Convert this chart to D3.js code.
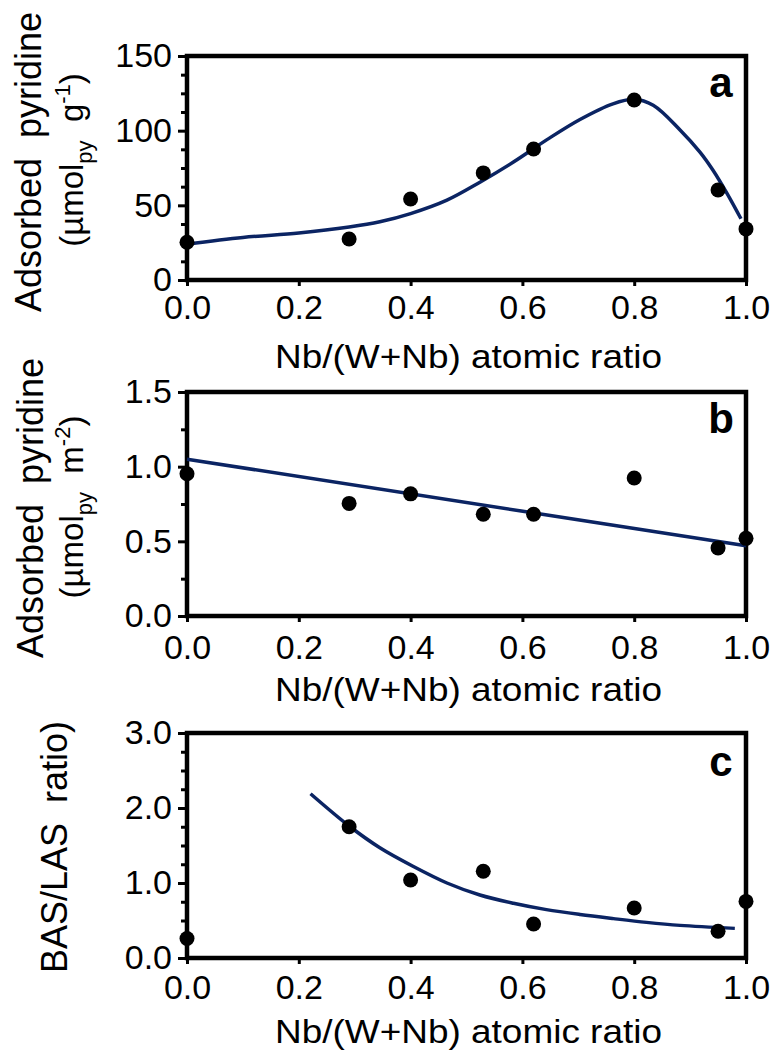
<!DOCTYPE html>
<html>
<head>
<meta charset="utf-8">
<script src="https://cdn.jsdelivr.net/npm/d3@7"></script>
<style>
  body { margin: 0; background: #fff; }
  text { font-family: "Liberation Sans", Arial, sans-serif; fill: #000; }
</style>
</head>
<body>
<div id="chart"></div>
<script>
// data
var xFrac = [0, 0.29, 0.40, 0.53, 0.62, 0.80, 0.95, 1.0];
var pyGram = [25.3, 27.5, 54.2, 71.7, 87.7, 120.5, 60.3, 34.2];
var pyArea = [0.953, 0.754, 0.818, 0.681, 0.681, 0.924, 0.456, 0.52];
var basLas = [0.26, 1.75, 1.04, 1.156, 0.453, 0.667, 0.356, 0.755];

// fitted lines
var fitAx = [0, 0.1, 0.2, 0.29, 0.345, 0.4, 0.465, 0.524, 0.584, 0.644, 0.703, 0.762, 0.8, 0.834, 0.882, 0.918, 0.941, 0.966, 0.991];
var fitAy = [24, 28.5, 31.5, 35.5, 39, 44.5, 53.5, 65.5, 79, 94, 107.5, 118, 121, 117, 100.5, 85.5, 73.5, 58, 41];
var fitBx = [0, 1];
var fitBy = [1.05, 0.47];
var fitCx = [0.221, 0.29, 0.345, 0.405, 0.465, 0.524, 0.584, 0.643, 0.703, 0.763, 0.822, 0.882, 0.98];
var fitCy = [2.19, 1.76, 1.47, 1.22, 1.0, 0.84, 0.73, 0.645, 0.58, 0.525, 0.475, 0.435, 0.395];

var xTicks = [0, 0.2, 0.4, 0.6, 0.8, 1.0];
var yTicksA = [0, 50, 100, 150];
var yMinorA = [12.5, 25, 37.5, 62.5, 75, 87.5, 112.5, 125, 137.5];
var yTicksB = [0, 0.5, 1.0, 1.5];
var yMinorB = [0.25, 0.75, 1.25];
var yTicksC = [0, 1, 2, 3];
var yMinorC = [0.25, 0.5, 0.75, 1.25, 1.5, 1.75, 2.25, 2.5, 2.75];

var xTitle = "Nb/(W+Nb) atomic ratio";
var lineColor = "#0b2463";

var W = 782, H = 1050;
var left = 187, right = 746;

var svg = d3.select("#chart").append("svg")
    .attr("width", W)
    .attr("height", H);

var x = d3.scaleLinear().domain([0, 1]).range([left, right]);

var panels = [
  { top: 56, bottom: 280, ymax: 150, vals: pyGram, ticks: yTicksA, minor: yMinorA, fmt: d3.format("d"),
    fx: fitAx, fy: fitAy, smooth: true, letter: "a", letterY: 97, tickPad: 9, titleY: 368,
    l1: "Adsorbed  pyridine", l1x: 41, l1c: 162, unit: "g", exp: "-1", l2x: 83, l2c: 160 },
  { top: 392, bottom: 616, ymax: 1.5, vals: pyArea, ticks: yTicksB, minor: yMinorB, fmt: d3.format(".1f"),
    fx: fitBx, fy: fitBy, smooth: false, letter: "b", letterY: 433, tickPad: 13, titleY: 701,
    l1: "Adsorbed  pyridine", l1x: 43, l1c: 508, unit: "m", exp: "-2", l2x: 83, l2c: 507 },
  { top: 733, bottom: 958, ymax: 3, vals: basLas, ticks: yTicksC, minor: yMinorC, fmt: d3.format(".1f"),
    fx: fitCx, fy: fitCy, smooth: true, letter: "c", letterY: 776, tickPad: 11, titleY: 1043,
    l1: "BAS/LAS  ratio)", l1x: 67, l1c: 847 }
];

panels.forEach(function(p) {
  var y = d3.scaleLinear().domain([0, p.ymax]).range([p.bottom, p.top]);
  var g = svg.append("g");

  // minor y ticks
  g.append("g")
    .attr("transform", "translate(" + left + ",0)")
    .call(d3.axisLeft(y).tickValues(p.minor).tickSize(6).tickFormat(""))
    .call(function(a) { a.select(".domain").remove(); a.selectAll("line").attr("stroke-width", 3); });

  // major y ticks
  g.append("g")
    .attr("transform", "translate(" + left + ",0)")
    .call(d3.axisLeft(y).tickValues(p.ticks).tickSize(9).tickPadding(6).tickFormat(p.fmt))
    .call(function(a) {
      a.select(".domain").remove();
      a.selectAll("line").attr("stroke-width", 3);
      a.selectAll("text").style("font-size", "34px").attr("fill", "#000");
    });

  // x axis
  g.append("g")
    .attr("transform", "translate(0," + p.bottom + ")")
    .call(d3.axisBottom(x).tickValues(xTicks).tickSize(6).tickPadding(p.tickPad).tickFormat(d3.format(".1f")))
    .call(function(a) {
      a.select(".domain").remove();
      a.selectAll("line").attr("stroke-width", 3);
      a.selectAll("text").style("font-size", "34px").attr("fill", "#000");
    });

  // frame
  g.append("rect")
    .attr("x", left).attr("y", p.top)
    .attr("width", right - left).attr("height", p.bottom - p.top)
    .attr("fill", "none").attr("stroke", "#000").attr("stroke-width", 4.5);

  // fitted curve
  var fit = p.fx.map(function(v, i) { return [v, p.fy[i]]; });
  var line = d3.line()
    .x(function(d) { return x(d[0]); })
    .y(function(d) { return y(d[1]); })
    .curve(p.smooth ? d3.curveCatmullRom.alpha(0.5) : d3.curveLinear);
  g.append("path")
    .datum(fit)
    .attr("d", line)
    .attr("fill", "none")
    .attr("stroke", lineColor)
    .attr("stroke-width", 3.5);

  // points
  g.selectAll("circle")
    .data(p.vals)
    .enter()
    .append("circle")
      .attr("cx", function(d, i) { return x(xFrac[i]); })
      .attr("cy", function(d) { return y(d); })
      .attr("r", 7.5)
      .attr("fill", "#000");

  // panel letter
  g.append("text")
    .attr("x", 721).attr("y", p.letterY)
    .attr("text-anchor", "middle")
    .style("font-size", "42px").style("font-weight", "bold")
    .text(p.letter);

  // x title
  g.append("text")
    .attr("x", (275 + 662) / 2).attr("y", p.titleY)
    .attr("text-anchor", "middle")
    .attr("textLength", 387).attr("lengthAdjust", "spacingAndGlyphs")
    .style("font-size", "34px")
    .text(xTitle);

  // y title, first line
  g.append("text")
    .attr("transform", "translate(" + p.l1x + "," + p.l1c + ") rotate(-90)")
    .attr("text-anchor", "middle")
    .style("font-size", "36px").style("white-space", "pre")
    .text(p.l1);

  // y title, unit line
  if (p.unit) {
    var t = g.append("text")
      .attr("transform", "translate(" + p.l2x + "," + p.l2c + ") rotate(-90)")
      .attr("text-anchor", "middle")
      .style("font-size", "33px").style("white-space", "pre");
    t.append("tspan").text("(\u00b5mol");
    t.append("tspan").attr("dy", 9).style("font-size", "22px").text("py");
    t.append("tspan").attr("dy", -9).text("  " + p.unit);
    t.append("tspan").attr("dy", -13).style("font-size", "22px").text(p.exp);
    t.append("tspan").attr("dy", 13).text(")");
  }
});
</script>
</body>
</html>
